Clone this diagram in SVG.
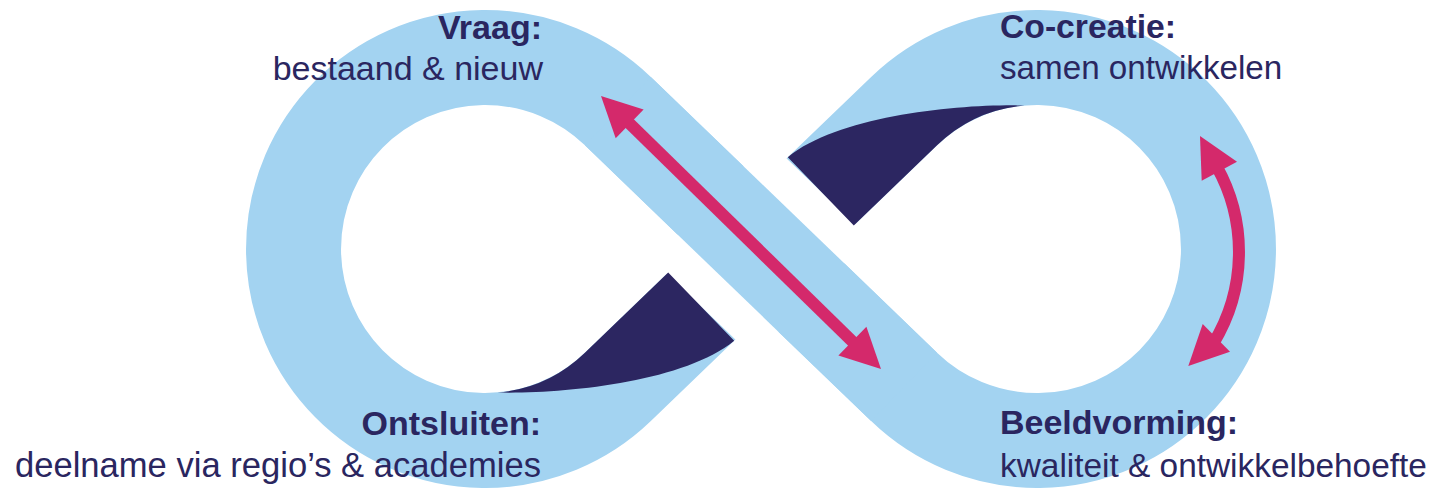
<svg xmlns="http://www.w3.org/2000/svg" width="1432" height="490" viewBox="0 0 1432 490">
  <style>
    .ribbon { fill: none; stroke: #A3D3F1; stroke-width: 95; }
    .gap { fill: none; stroke: #FFFFFF; stroke-width: 166; }
    .fold { fill: #2C2661; stroke: none; }
    .shaft { fill: none; stroke: #D4296B; stroke-width: 12; }
    .head { fill: #D4296B; stroke: none; }
    .title { font-family: "Liberation Sans", Arial, sans-serif; font-size: 34px; font-weight: bold; fill: #2A2660; }
    .sub { font-family: "Liberation Sans", Arial, sans-serif; font-size: 34px; fill: #2A2660; }
  </style>
  <rect width="1432" height="490" fill="#FFFFFF"/>
  <g id="infinity-loop">
    <path class="ribbon" d="M 617.9 111.1 L 904.1 386.9 A 191.5 191.5 0 1 0 904.1 111.1 L 617.9 386.9 A 191.5 191.5 0 1 1 617.9 111.1 Z"/>
    <line class="gap" x1="710.6" y1="200.4" x2="811.4" y2="297.6"/>
    <line class="ribbon" x1="617.9" y1="111.1" x2="904.1" y2="386.9"/>
    <path class="fold" d="M 787.8 157.2 L 853.8 225.6 L 937.1 145.3 A 144 144 0 0 1 1024.4 105.5 C 960 104 840 115 787.8 157.2 Z"/>
    <path class="fold" d="M 734.2 340.8 L 668.2 272.4 L 584.9 352.7 A 144 144 0 0 1 497.6 392.5 C 562 394 682 383 734.2 340.8 Z"/>
  </g>
  <g id="connectors">
    <g id="arrow-diagonal">
      <line class="shaft" x1="626" y1="120" x2="856" y2="345"/>
      <polygon class="head" points="601,96 643.6,109.6 615.7,138.2"/>
      <polygon class="head" points="881,369 866.4,326.8 838.4,355.4"/>
    </g>
    <g id="arrow-curved">
      <path class="shaft" d="M 1216.5 166.1 A 175.6 175.6 0 0 1 1213.1 343.8"/>
      <polygon class="head" points="1200,136 1237,161.7 1201.7,180.7"/>
      <polygon class="head" points="1188.3,366 1230,351.7 1202.7,324"/>
    </g>
  </g>
  <g id="node-vraag">
    <text class="title" x="542" y="39" text-anchor="end">Vraag:</text>
    <text class="sub" x="543" y="80" text-anchor="end">bestaand &amp; nieuw</text>
  </g>
  <g id="node-cocreatie">
    <text class="title" x="1000" y="38" style="font-size:33.7px">Co-creatie:</text>
    <text class="sub" x="1000" y="79" style="font-size:33.2px">samen ontwikkelen</text>
  </g>
  <g id="node-ontsluiten">
    <text class="title" x="541" y="435" text-anchor="end">Ontsluiten:</text>
    <text class="sub" x="541" y="477" text-anchor="end" style="font-size:34.6px">deelname via regio’s &amp; academies</text>
  </g>
  <g id="node-beeldvorming">
    <text class="title" x="1000" y="434">Beeldvorming:</text>
    <text class="sub" x="1000" y="477" style="font-size:33.4px">kwaliteit &amp; ontwikkelbehoefte</text>
  </g>
</svg>
